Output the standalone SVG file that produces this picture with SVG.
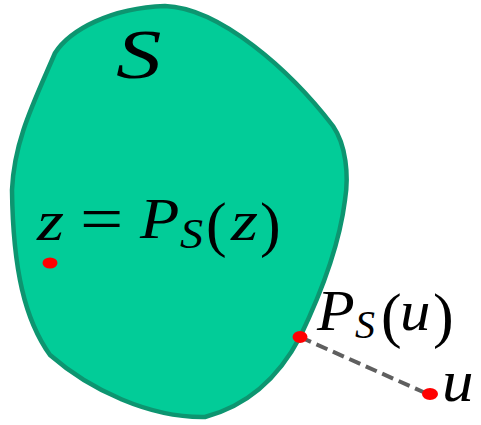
<svg xmlns="http://www.w3.org/2000/svg" width="481" height="425" viewBox="0 0 481 425">
<style>
.blob{fill:#02cc98;stroke:#0d9570;stroke-width:4.5;stroke-linejoin:round}
.dot{fill:#ff0000}
.conn{stroke:#5f5f5f;stroke-width:4;stroke-dasharray:12 6;fill:none}
text{font-family:"Liberation Serif","Times New Roman",serif;fill:#000}
.it{font-style:italic}
</style>
<rect width="481" height="425" fill="#ffffff"/>
<g id="set">
<path class="blob" d="M55,53 C70,30 110,8 165,6 C220,8 290,70 333,126 C346,145 349,175 345,200 C340,240 325,285 300,337 C280,375 250,405 205,417 C150,418 90,390 50,355 C25,320 13,270 12,190 C14,140 35,100 55,53 Z"/>
<text class="it" transform="translate(116,78) scale(1.3,1)" font-size="70">S</text>
</g>
<g id="connectors">
<line class="conn" x1="300" y1="337" x2="430" y2="395"/>
</g>
<g id="z">
<ellipse class="dot" cx="50" cy="263" rx="7.5" ry="5.5"/>
<text class="it" transform="translate(37,240) scale(1.2,1)" font-size="58">z</text>
<text x="80" y="240" font-size="64" transform="translate(80,0) scale(1.2,1) translate(-80,0)">=</text>
<text class="it" transform="translate(140,238) scale(1.15,1)" font-size="56">P</text>
<text class="it" transform="translate(180,248) scale(1.1,1)" font-size="42">S</text>
<text x="206" y="245" font-size="62">(</text>
<text class="it" transform="translate(231,240) scale(1.2,1)" font-size="58">z</text>
<text x="260" y="245" font-size="62">)</text>
</g>
<g id="pu">
<ellipse class="dot" cx="300" cy="337" rx="7.5" ry="6"/>
<text class="it" transform="translate(317,330) scale(1.1,1)" font-size="56">P</text>
<text class="it" transform="translate(355,338) scale(1.0,1)" font-size="40">S</text>
<text x="381" y="336" font-size="62">(</text>
<text class="it" transform="translate(400,330) scale(1.05,1)" font-size="58">u</text>
<text x="433" y="336" font-size="62">)</text>
</g>
<g id="u">
<ellipse class="dot" cx="430" cy="394" rx="8" ry="6"/>
<text class="it" transform="translate(442,401) scale(1.05,1)" font-size="60">u</text>
</g>
</svg>
